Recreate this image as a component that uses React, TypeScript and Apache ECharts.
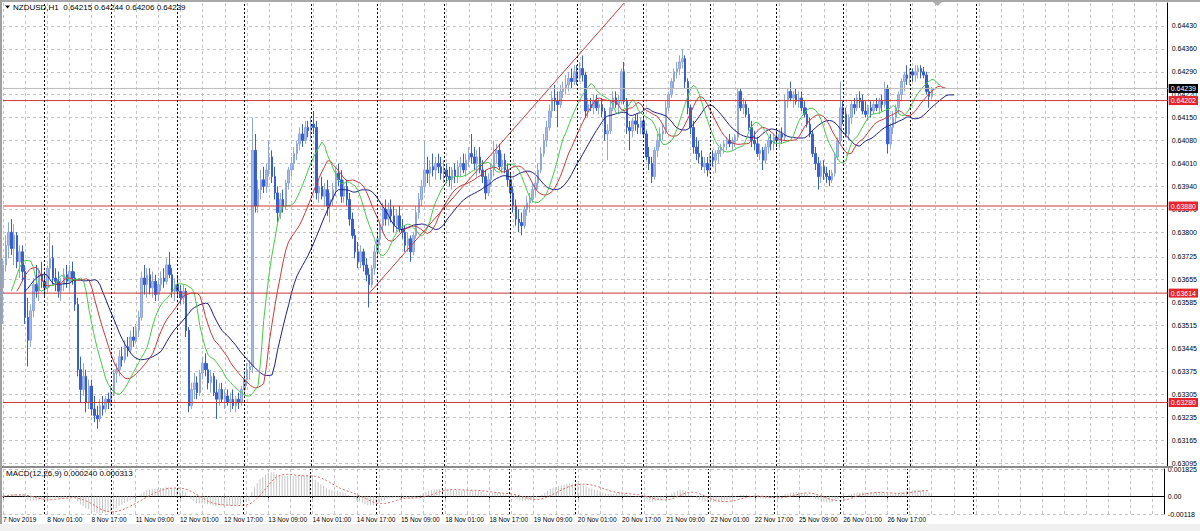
import React, { useEffect, useRef } from "react";
import * as echarts from "echarts";

// ---------- texts ----------
const symbolTitle = "NZDUSD,H1";
const lastBarText = "0.64215 0.64244 0.64206 0.64239";
const macdTitle = "MACD(12,26,9) 0.000240 0.000313";

// ---------- hourly candles (price in points, 1 point = 0.00001) ----------
const opens = [
  63630,63700,63760,63800,63750,63790,63710,63740,63680,63540,63470,63560,63640,63620,63670,63650,
  63630,63690,63720,63660,63650,63620,63640,63670,63650,63680,63660,63580,63380,63320,63360,63280,63330,63260,63240,63230,63270,63260,63290,63280,
  63310,63370,63380,63420,63410,63450,63440,63480,63470,63500,63540,63660,63640,63670,63630,63650,63610,63640,63660,63650,63700,63670,63620,63640,
  63620,63600,63620,63500,63270,63320,63340,63310,63370,63400,63380,63340,63360,63310,63290,63320,63290,63300,63280,63290,63270,63290,63280,
  63320,63350,63380,63390,64050,63880,63930,63960,63940,63990,64030,63970,63920,63860,63900,63880,63950,63990,64010,64040,64070,64100,64080,64120,
  64110,64130,64120,63920,63940,63910,63930,63880,63900,63930,63980,63960,63910,63940,63900,63840,63790,63740,63710,63740,63700,63670,63640,63690,
  63740,63780,63820,63870,63840,63870,63850,63820,63850,63810,63800,63760,63780,63740,63790,63860,63900,63940,63990,63980,64000,63990,64010,64000,
  63980,63990,63970,63960,63990,63970,64000,64010,63990,64020,64040,64030,64010,64030,63990,63970,63920,63960,63990,64040,64050,64000,64020,63990,
  63960,63920,63880,63840,63830,63820,63870,63890,63900,63930,63950,63990,64040,64080,64120,64170,64210,64200,64190,64230,64240,64250,64270,64260,
  64290,64270,64300,64280,64170,64190,64180,64200,64180,64190,64170,64100,64110,64180,64210,64190,64200,64290,64200,64120,64110,64140,64130,64120,
  64140,64100,64030,64010,63970,64050,64080,64100,64110,64180,64220,64260,64290,64300,64320,64330,64260,64180,64120,64060,64040,64030,64000,64010,
  63990,64030,64020,64040,64050,64060,64070,64080,64070,64080,64090,64230,64180,64190,64160,64120,64080,64070,64040,64050,64020,64060,64080,64070,
  64090,64080,64100,64090,64200,64230,64210,64220,64200,64210,64180,64160,64130,64100,64040,64010,63970,64000,63980,63970,63960,63980,64030,64080,
  64180,64160,64100,64150,64190,64180,64210,64200,64170,64160,64180,64170,64190,64180,64200,64190,64240,64070,64120,64150,64180,64220,64260,64280,
  64270,64290,64280,64290,64300,64290,64280,64230,64215,
];
const highs = [
  63720,63790,63830,63840,63825,63800,63760,63760,63700,63600,63580,63660,63700,63690,63710,63680,
  63700,63800,63760,63690,63680,63660,63690,63700,63700,63710,63680,63600,63420,63400,63380,63350,63350,63300,63270,63290,63300,63300,63310,63330,
  63380,63400,63440,63450,63470,63480,63500,63510,63520,63560,63680,63700,63690,63690,63680,63670,63660,63680,63690,63720,63740,63690,63660,63670,
  63640,63640,63630,63510,63340,63370,63360,63380,63420,63430,63400,63380,63370,63350,63340,63340,63320,63320,63310,63320,63300,63310,63330,
  63370,63400,63410,64150,64100,63960,63990,64000,64010,64080,64050,64000,63940,63920,63930,63960,64000,64030,64060,64080,64120,64130,64140,64140,
  64150,64170,64140,63960,63970,63950,63960,63920,63950,64000,64010,63990,63960,63960,63920,63860,63810,63770,63760,63750,63720,63690,63700,63760,
  63800,63830,63890,63900,63890,63900,63880,63870,63880,63840,63820,63800,63790,63800,63880,63920,63960,64080,64030,64020,64040,64030,64040,64030,
  64020,64010,64000,64000,64010,64020,64030,64040,64040,64060,64100,64060,64050,64060,64020,63990,63980,64010,64080,64070,64070,64040,64040,64010,
  63980,63940,63900,63870,63860,63880,63910,63920,63950,63970,64010,64060,64100,64140,64190,64230,64250,64230,64250,64260,64280,64290,64300,64310,
  64310,64320,64340,64290,64210,64210,64220,64220,64210,64210,64180,64130,64200,64230,64230,64220,64300,64320,64210,64140,64150,64160,64160,64150,
  64150,64110,64060,64030,64060,64100,64120,64130,64200,64230,64270,64300,64320,64340,64360,64340,64270,64190,64140,64090,64080,64050,64030,64030,
  64040,64050,64050,64060,64070,64080,64090,64100,64090,64100,64240,64240,64210,64200,64180,64140,64110,64090,64070,64060,64070,64090,64100,64100,
  64110,64110,64120,64220,64240,64260,64230,64240,64230,64230,64200,64180,64150,64110,64060,64030,64020,64020,64000,63990,63990,64040,64090,64260,
  64200,64180,64160,64200,64210,64220,64230,64220,64200,64190,64200,64200,64210,64210,64220,64260,64250,64130,64170,64190,64230,64270,64290,64310,
  64300,64300,64310,64310,64310,64305,64290,64250,64244,
];
const lows = [
  63520,63680,63720,63730,63700,63690,63660,63650,63520,63390,63450,63540,63600,63590,63630,63600,
  63620,63660,63640,63620,63600,63590,63620,63630,63620,63640,63560,63360,63280,63300,63250,63260,63240,63220,63200,63220,63240,63250,63260,63270,
  63300,63340,63360,63390,63400,63420,63430,63450,63460,63480,63530,63610,63600,63610,63600,63590,63590,63620,63630,63640,63660,63600,63590,63600,
  63580,63580,63480,63250,63260,63290,63290,63300,63350,63360,63320,63310,63300,63230,63270,63280,63260,63270,63250,63260,63250,63260,63270,
  63310,63330,63350,63370,63860,63860,63900,63920,63920,63970,63950,63900,63830,63840,63860,63870,63930,63970,63990,64020,64050,64060,64070,64090,
  64080,64100,63900,63890,63900,63880,63850,63830,63880,63910,63940,63890,63890,63880,63820,63780,63720,63690,63690,63680,63650,63570,63630,63670,
  63720,63760,63800,63820,63820,63830,63800,63800,63800,63780,63740,63740,63710,63730,63780,63840,63880,63920,63950,63940,63970,63960,63980,63960,
  63950,63950,63940,63930,63950,63950,63970,63980,63970,64000,64010,63990,63970,63980,63950,63900,63910,63940,63970,64010,63990,63980,63980,63940,
  63900,63860,63820,63800,63790,63810,63850,63860,63890,63910,63930,63980,64030,64060,64110,64150,64170,64120,64180,64210,64220,64230,64240,64250,
  64250,64260,64260,64150,64150,64170,64160,64170,64160,64150,64080,64020,64100,64170,64180,64160,64190,64190,64100,64050,64090,64110,64100,64100,
  64090,64020,63990,63950,63960,64030,64060,64080,64100,64170,64210,64240,64270,64280,64300,64240,64160,64100,64040,64020,64010,63990,63980,63970,
  63980,64000,63980,64010,64030,64040,64050,64060,64050,64060,64080,64170,64160,64150,64110,64060,64050,64030,64020,63990,64010,64040,64050,64050,
  64060,64060,64070,64080,64180,64200,64180,64190,64180,64170,64150,64120,64090,64030,63990,63930,63950,63960,63950,63940,63950,63970,64020,64070,
  64130,64090,64080,64130,64160,64170,64180,64160,64150,64140,64150,64160,64170,64160,64170,64180,64040,64060,64100,64130,64160,64200,64230,64250,
  64250,64260,64260,64270,64270,64270,64220,64180,64206,
];
const closes = [
  63700,63760,63800,63750,63790,63710,63740,63680,63540,63470,63560,63640,63620,63670,63650,63630,
  63690,63720,63660,63650,63620,63640,63670,63650,63680,63660,63580,63380,63320,63360,63280,63330,63260,63240,63230,63270,63260,63290,63280,63310,
  63370,63380,63420,63410,63450,63440,63480,63470,63500,63540,63660,63640,63670,63630,63650,63610,63640,63660,63650,63700,63670,63620,63640,63620,
  63600,63620,63500,63270,63320,63340,63310,63370,63400,63380,63340,63360,63310,63290,63320,63290,63300,63280,63290,63270,63290,63280,63320,
  63350,63380,63390,64050,63880,63930,63960,63940,63990,64030,63970,63920,63860,63900,63880,63950,63990,64010,64040,64070,64100,64080,64120,64110,
  64130,64120,63920,63940,63910,63930,63880,63900,63930,63980,63960,63910,63940,63900,63840,63790,63740,63710,63740,63700,63670,63640,63690,63740,
  63780,63820,63870,63840,63870,63850,63820,63850,63810,63800,63760,63780,63740,63790,63860,63900,63940,63990,63980,64000,63990,64010,64000,63980,
  63990,63970,63960,63990,63970,64000,64010,63990,64020,64040,64030,64010,64030,63990,63970,63920,63960,63990,64040,64050,64000,64020,63990,63960,
  63920,63880,63840,63830,63820,63870,63890,63900,63930,63950,63990,64040,64080,64120,64170,64210,64200,64190,64230,64240,64250,64270,64260,64290,
  64270,64300,64280,64170,64190,64180,64200,64180,64190,64170,64100,64110,64180,64210,64190,64200,64290,64200,64120,64110,64140,64130,64120,64140,
  64100,64030,64010,63970,64050,64080,64100,64110,64180,64220,64260,64290,64300,64320,64330,64260,64180,64120,64060,64040,64030,64000,64010,63990,
  64030,64020,64040,64050,64060,64070,64080,64070,64080,64090,64230,64180,64190,64160,64120,64080,64070,64040,64050,64020,64060,64080,64070,64090,
  64080,64100,64090,64200,64230,64210,64220,64200,64210,64180,64160,64130,64100,64040,64010,63970,64000,63980,63970,63960,63980,64030,64080,64180,
  64160,64100,64150,64190,64180,64210,64200,64170,64160,64180,64170,64190,64180,64200,64190,64240,64070,64120,64150,64180,64220,64260,64280,64270,
  64290,64280,64290,64300,64290,64280,64230,64215,64239,
];

// ---------- axes / annotations ----------
const timeLabels = [
  "7 Nov 2019", "8 Nov 01:00", "8 Nov 17:00", "11 Nov 09:00", "12 Nov 01:00", "12 Nov 17:00",
  "13 Nov 09:00", "14 Nov 01:00", "14 Nov 17:00", "15 Nov 09:00", "18 Nov 01:00", "18 Nov 17:00",
  "19 Nov 09:00", "20 Nov 01:00", "20 Nov 17:00", "21 Nov 09:00", "22 Nov 01:00", "22 Nov 17:00",
  "25 Nov 09:00", "26 Nov 01:00", "26 Nov 17:00",
];
const daySeparators = [15, 39, 63, 87, 111, 135, 159, 183, 207, 231, 255, 279, 303, 327, 351];
const priceTicks = [
  0.63095, 0.63165, 0.63235, 0.63305, 0.63375, 0.63445, 0.63515, 0.63585, 0.63655, 0.63725,
  0.638, 0.6387, 0.6394, 0.6401, 0.6408, 0.6415, 0.6422, 0.6429, 0.6436, 0.6443,
];
const macdTicks = [0.001825, 0, -0.00118];
const macdTickLabels = ["0.001825", "0.00", "-0.00118"];
const levelLines = [0.64202, 0.6388, 0.63614, 0.6328];
const bidPrice = 0.64239;
const trendLine = [[132, 0.63613], [224, 0.645]];

const TOTAL_SLOTS = 421; // bars + empty chart-shift area
const LABEL_STEP = 16;
const GRID_STEP = 8;
const FONT = "'Liberation Sans Narrow','Liberation Sans',Arial,sans-serif";

// ---------- indicators derived from the candles ----------
const pts = (v: number) => v / 100000;
const medians = highs.map((h, i) => pts((h + lows[i]) / 2));
const closePx = closes.map(pts);

function smma(src: number[], n: number): number[] {
  const out: number[] = [];
  let prev = src[0];
  src.forEach((v, i) => {
    prev = i === 0 ? v : (prev * (n - 1) + v) / n;
    out.push(prev);
  });
  return out;
}
function ema(src: number[], n: number): number[] {
  const k = 2 / (n + 1);
  let prev = src[0];
  return src.map((v, i) => (prev = i === 0 ? v : prev + k * (v - prev)));
}
function shifted(src: number[], s: number): (number | null)[] {
  const out: (number | null)[] = new Array(TOTAL_SLOTS).fill(null);
  src.forEach((v, i) => {
    if (i + s < TOTAL_SLOTS) out[i + s] = v;
  });
  return out;
}
const jaw = shifted(smma(medians, 13), 8);
const teeth = shifted(smma(medians, 8), 5);
const lips = shifted(smma(medians, 5), 3);
const ema12 = ema(closePx, 12);
const ema26 = ema(closePx, 26);
const macdMain = ema12.map((v, i) => v - ema26[i]);
const macdSignal = macdMain.map((_, i) => {
  const w = macdMain.slice(Math.max(0, i - 8), i + 1);
  return w.reduce((a, b) => a + b, 0) / w.length;
});

export default function App() {
  const ref = useRef<HTMLDivElement>(null);
  useEffect(() => {
    document.body.style.margin = "0";
    const chart = echarts.init(ref.current!, null, { renderer: "svg" });
    const cats = Array.from({ length: TOTAL_SLOTS }, (_, i) => String(i));
    const lastIdx = closes.length - 1;
    const candleData = closes.map((c, i) => [pts(opens[i]), pts(c), pts(lows[i]), pts(highs[i])]);
    const vGrid = {
      show: true,
      interval: (i: number) => i % GRID_STEP === 0,
      lineStyle: { color: "#c4c4c4", type: [3, 3], width: 1 },
    };
    const sepLines = daySeparators.map((d) => ({
      xAxis: d,
      lineStyle: { color: "#000", type: [2, 2], width: 1 },
      label: { show: false },
    }));
    const tag = (bg: string) => ({
      show: true,
      position: "end",
      distance: 1,
      backgroundColor: bg,
      color: "#fff",
      fontSize: 7,
      fontFamily: FONT,
      lineHeight: 8,
      padding: [1, 2, 0, 2],
    });
    const hLevel = (v: number, color: string, bg: string) => ({
      name: "level" + v,
      type: "line",
      xAxisIndex: 0,
      yAxisIndex: 0,
      data: [[0, v], [TOTAL_SLOTS - 1, v]],
      symbol: "none",
      silent: true,
      lineStyle: { color, width: 1 },
      z: 4,
      endLabel: { ...tag(bg), formatter: v.toFixed(5) },
    });

    chart.setOption({
      animation: false,
      backgroundColor: "#ffffff",
      grid: [
        { left: 3, right: 27, top: 3, height: 463 },
        { left: 3, right: 27, top: 469, height: 45 },
      ],
      xAxis: [
        {
          type: "category", gridIndex: 0, data: cats, boundaryGap: false,
          axisLine: { show: false }, axisTick: { show: false }, axisLabel: { show: false },
          splitLine: vGrid,
        },
        {
          type: "category", gridIndex: 1, data: cats, boundaryGap: false,
          axisLine: { show: true, lineStyle: { color: "#000", width: 1 } },
          axisTick: {
            show: true, length: 2, lineStyle: { color: "#000" },
            interval: (i: number) => i % LABEL_STEP === 0 && i <= lastIdx,
          },
          axisLabel: {
            show: true,
            interval: (i: number) => i % LABEL_STEP === 0 && i <= lastIdx,
            formatter: (_v: string, i: number) => timeLabels[i / LABEL_STEP] ?? "",
            align: "left", margin: 2, fontSize: 6.5, color: "#000", fontFamily: FONT,
          },
          splitLine: vGrid,
        },
      ],
      yAxis: [
        {
          type: "value", gridIndex: 0, position: "right", min: 0.63086, max: 0.645,
          axisLine: { show: true, lineStyle: { color: "#000", width: 1 } },
          axisTick: { show: false, customValues: priceTicks },
          axisLabel: {
            customValues: priceTicks, formatter: (v: number) => v.toFixed(5),
            margin: 4, fontSize: 7, color: "#000", fontFamily: FONT,
          },
          splitLine: { show: true, lineStyle: { color: "#c4c4c4", type: [3, 3], width: 1 } },
        },
        {
          type: "value", gridIndex: 1, position: "right", min: -0.00118, max: 0.001825,
          axisLine: { show: true, lineStyle: { color: "#000", width: 1 } },
          axisTick: { show: false, customValues: macdTicks },
          axisLabel: {
            customValues: macdTicks,
            showMinLabel: true, showMaxLabel: true,
            formatter: (v: number) => {
              const k = macdTicks.findIndex((t) => Math.abs(t - v) < 1e-9);
              return macdTickLabels[k] ?? "";
            },
            margin: 4, fontSize: 7, color: "#000", fontFamily: FONT,
          },
          splitLine: { show: true, lineStyle: { color: "#c4c4c4", type: [3, 3], width: 1 } },
        },
      ],
      series: [
        {
          name: "NZDUSD", type: "candlestick", xAxisIndex: 0, yAxisIndex: 0,
          data: candleData, barWidth: 2,
          itemStyle: { color: "#a8bce3", color0: "#3a5fc8", borderColor: "#8fa7da", borderColor0: "#3a5fc8", borderWidth: 1 },
          markLine: { silent: true, symbol: ["none", "none"], animation: false, data: sepLines },
        },
        {
          name: "Jaw", type: "line", xAxisIndex: 0, yAxisIndex: 0, data: jaw, symbol: "none",
          lineStyle: { color: "#1e1e86", width: 1 }, z: 3,
        },
        {
          name: "Teeth", type: "line", xAxisIndex: 0, yAxisIndex: 0, data: teeth, symbol: "none",
          lineStyle: { color: "#c83a3a", width: 1 }, z: 3,
        },
        {
          name: "Lips", type: "line", xAxisIndex: 0, yAxisIndex: 0, data: lips, symbol: "none",
          lineStyle: { color: "#46c846", width: 1 }, z: 3,
        },
        {
          name: "Trend", type: "line", xAxisIndex: 0, yAxisIndex: 0, data: trendLine, symbol: "none",
          lineStyle: { color: "#cc3838", width: 1 }, z: 3,
        },
        hLevel(bidPrice, "#bdbdbd", "#000"),
        ...levelLines.map((v) => hLevel(v, "#cc3838", "#e3262b")),
        {
          name: "MACD", type: "bar", xAxisIndex: 1, yAxisIndex: 1, data: macdMain, barWidth: 1,
          itemStyle: { color: "#c4c4c4" },
          markLine: { silent: true, symbol: ["none", "none"], animation: false, data: sepLines },
        },
        {
          name: "Signal", type: "line", xAxisIndex: 1, yAxisIndex: 1, data: macdSignal, symbol: "none",
          lineStyle: { color: "#d46a6a", width: 1, type: [2, 2] }, z: 3,
        },
      ],
      graphic: [
        { type: "rect", shape: { x: 0, y: 0, width: 1200, height: 2 }, style: { fill: "#a8a8a8" }, z: 100 },
        { type: "rect", shape: { x: 0, y: 0, width: 2, height: 524 }, style: { fill: "#a0a0a0" }, z: 100 },
        { type: "rect", shape: { x: 2, y: 466, width: 1171, height: 2 }, style: { fill: "#8a8a8a" }, z: 100 },
        { type: "rect", shape: { x: 0, y: 524, width: 1200, height: 7 }, style: { fill: "#f0f0f0" }, z: 100 },
        { type: "polygon", shape: { points: [[933, 2], [942, 2], [937.5, 6]] }, style: { fill: "#b0b0b0" }, z: 100 },
        { type: "polygon", shape: { points: [[5, 5.5], [10, 5.5], [7.5, 8.5]] }, style: { fill: "#000" }, z: 100 },
        {
          type: "text", x: 13, y: 7, z: 100,
          style: { text: `${symbolTitle}  ${lastBarText}`, fill: "#000", font: `8px ${FONT}`, verticalAlign: "middle" },
        },
        {
          type: "text", x: 6, y: 473, z: 100,
          style: { text: macdTitle, fill: "#000", font: `8px ${FONT}`, verticalAlign: "middle" },
        },
      ],
    });
    return () => chart.dispose();
  }, []);
  return <div ref={ref} style={{ width: 1200, height: 531, background: "#fff" }} />;
}
